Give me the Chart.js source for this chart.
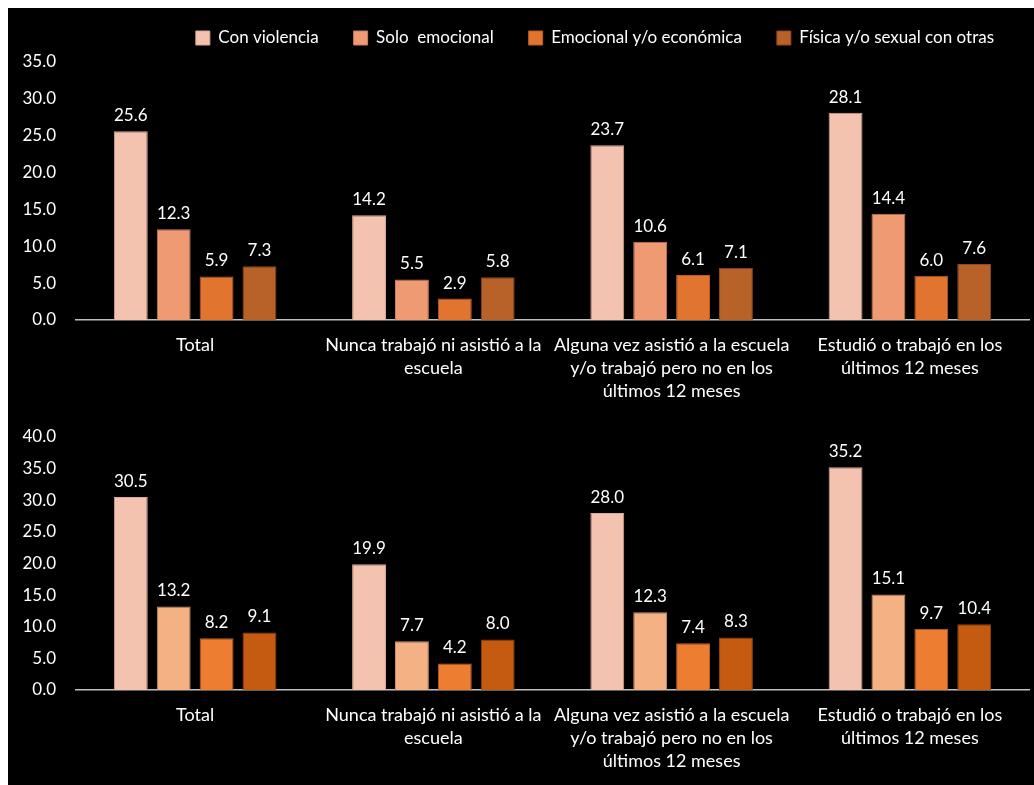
<!DOCTYPE html>
<html>
<head>
<meta charset="utf-8">
<script src="https://cdn.jsdelivr.net/npm/chart.js@4.4.0/dist/chart.umd.min.js"></script>
<style>
  html, body { margin: 0; padding: 0; background: #fff; }
  #frame { position: absolute; left: 8px; top: 8px; width: 1026px; height: 777px; background: #000; overflow: hidden; }
  .box { position: absolute; left: 0; width: 1026px; }
  #topBox { top: 0; height: 400px; }
  #bottomBox { top: 392px; height: 385px; }
</style>
</head>
<body>
<div id="frame">
  <div class="box" id="bottomBox"><canvas id="bottomChart"></canvas></div>
  <div class="box" id="topBox"><canvas id="topChart"></canvas></div>
</div>
<script>
// categories (x axis, multi-line)
const categories = [
    ['Total'],
    ['Nunca trabajó ni asistió a la', 'escuela'],
    ['Alguna vez asistió a la escuela', 'y/o trabajó pero no en los', 'últimos 12 meses'],
    ['Estudió o trabajó en los', 'últimos 12 meses']
];
const seriesNames = ['Con violencia', 'Solo  emocional', 'Emocional y/o económica', 'Física y/o sexual con otras'];

// top panel values
const topConViolencia = [25.6, 14.2, 23.7, 28.1];
const topSoloEmocional = [12.3, 5.5, 10.6, 14.4];
const topEmocionalEconomica = [5.9, 2.9, 6.1, 6.0];
const topFisicaSexual = [7.3, 5.8, 7.1, 7.6];

// bottom panel values
const bottomConViolencia = [30.5, 19.9, 28.0, 35.2];
const bottomSoloEmocional = [13.2, 7.7, 12.3, 15.1];
const bottomEmocionalEconomica = [8.2, 4.2, 7.4, 9.7];
const bottomFisicaSexual = [9.1, 8.0, 8.3, 10.4];

// axis ranges
const topMax = 35;
const bottomMax = 40;
const tickStep = 5;

const topColors = ['#F4C3B0', '#F09A74', '#E17530', '#B86128'];
const topBorders = ['#D9A896', '#C97E5E', '#B85E25', '#8E4A1F'];
const bottomColors = ['#F4C3B0', '#F4B183', '#ED7D31', '#C55A11'];
const bottomBorders = ['#D9A896', '#C9926B', '#B85F25', '#94430D'];

Chart.defaults.font.family = 'Lato';
Chart.defaults.font.size = 17;
Chart.defaults.color = '#fff';

// value labels above the bars
const valueLabels = {
    id: 'valueLabels',
    afterDatasetsDraw(chart) {
        const ctx = chart.ctx;
        ctx.save();
        ctx.font = '17px Lato';
        ctx.fillStyle = '#fff';
        ctx.textAlign = 'center';
        ctx.textBaseline = 'bottom';
        chart.data.datasets.forEach((ds, i) => {
            chart.getDatasetMeta(i).data.forEach((bar, j) => {
                ctx.fillText(ds.data[j].toFixed(1), bar.x, bar.y - 7);
            });
        });
        ctx.restore();
    }
};

function makeDatasets(values, colors, borders) {
    return values.map((v, i) => ({
        label: seriesNames[i],
        data: v,
        backgroundColor: colors[i],
        borderColor: borders[i],
        borderWidth: 1,
        categoryPercentage: 0.72,
        barPercentage: 0.79
    }));
}

function makeScales(max) {
    return {
        x: {
            grid: { display: false },
            border: { color: '#BFBFBF', width: 1.5 },
            ticks: { color: '#fff', padding: 5, maxRotation: 0, autoSkip: false, font: { size: 18, lineHeight: 1.3 } },
            afterFit: s => { s.height = 88; }
        },
        y: {
            min: 0,
            max: max,
            grid: { display: false },
            border: { display: false },
            ticks: { stepSize: tickStep, color: '#fff', padding: 12, callback: v => v.toFixed(1) },
            afterFit: s => { s.width = 68; }
        }
    };
}

// Top chart
new Chart(document.getElementById('topChart'), {
    type: 'bar',
    data: {
        labels: categories,
        datasets: makeDatasets([topConViolencia, topSoloEmocional, topEmocionalEconomica, topFisicaSexual], topColors, topBorders)
    },
    options: {
        responsive: true,
        maintainAspectRatio: false,
        animation: false,
        layout: { padding: { top: -13.5, left: 0, right: 5, bottom: 0 } },
        plugins: {
            legend: {
                position: 'top',
                align: 'end',
                labels: { color: '#fff', boxWidth: 14, boxHeight: 14, padding: 35, font: { size: 17 } }
            },
            // thin empty box that keeps a gap between legend and plot
            subtitle: {
                display: true,
                text: '',
                weight: 100,
                padding: 0,
                font: { size: 5.5, lineHeight: 1 }
            },
            tooltip: { enabled: false }
        },
        scales: makeScales(topMax)
    },
    plugins: [valueLabels]
});

// Bottom chart
new Chart(document.getElementById('bottomChart'), {
    type: 'bar',
    data: {
        labels: categories,
        datasets: makeDatasets([bottomConViolencia, bottomSoloEmocional, bottomEmocionalEconomica, bottomFisicaSexual], bottomColors, bottomBorders)
    },
    options: {
        responsive: true,
        maintainAspectRatio: false,
        animation: false,
        layout: { padding: { top: 37, left: 0, right: 5, bottom: 7 } },
        plugins: {
            legend: { display: false },
            tooltip: { enabled: false }
        },
        scales: makeScales(bottomMax)
    },
    plugins: [valueLabels]
});
</script>
</body>
</html>
